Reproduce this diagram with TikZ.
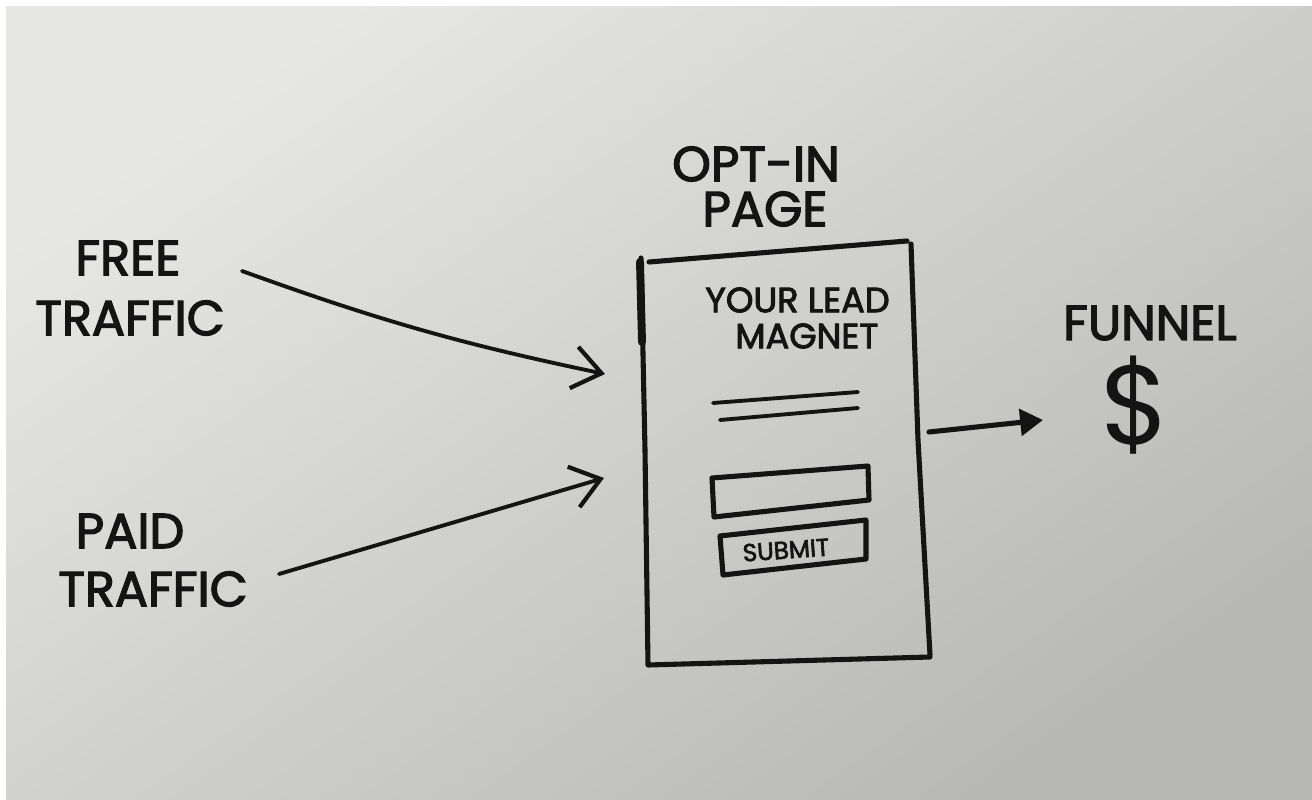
\documentclass[tikz,border=0pt]{standalone}
\usepackage{fontspec}
\setmainfont{Poppins}
\newfontfamily\handfont{Poppins}[FakeBold=2.6]
\usetikzlibrary{arrows.meta}
\definecolor{paperA}{HTML}{E7E7E5}
\definecolor{paperM}{HTML}{DADAD8}
\definecolor{paperB}{HTML}{B8B8B6}
\definecolor{ink}{HTML}{141414}
\tikzset{
  pen/.style={draw=ink, line width=2.9pt, line cap=round, line join=round},
  thinpen/.style={draw=ink, line width=2.2pt, line cap=round, line join=round},
  hand/.style={text=ink, font=\handfont\fontsize{28}{33}\selectfont, align=center, inner sep=0pt},
  handmid/.style={text=ink, font=\handfont\fontsize{20}{22}\selectfont, align=left, inner sep=0pt},
  handsmall/.style={text=ink, font=\handfont\fontsize{14}{16}\selectfont, inner sep=0pt},
  openhead/.style={-{Straight Barb[length=16pt,width=24pt,line width=2.4pt]}},
  solidhead/.style={-{Triangle[length=13pt,width=15pt]}}
}
\begin{document}
\begin{tikzpicture}[x=0.02cm,y=-0.02cm]
\useasboundingbox (0,0) rectangle (1312,800);
\fill[white] (0,0) rectangle (1312,800);
\shade[shading=axis, top color=paperA, middle color=paperM, bottom color=paperB, shading angle=35] (6,7) rectangle (1312,800);

% labels
\node[hand] (free) at (128,258) {FREE};
\node[hand] (freet) at (130,318) {TRAFFIC};
\node[hand] (paid) at (130,531) {PAID};
\node[hand] (paidt) at (153,589) {TRAFFIC};
\node[hand] (optin) at (756,164) {OPT-IN};
\node[hand] (pagelbl) at (765,209) {PAGE};
\node[hand] (funnel) at (1150,323) {FUNNEL};
\node[text=ink, font=\fontsize{64}{66}\selectfont, inner sep=0pt] (dollar) at (1135,405) {\$};

% page box
\draw[pen] (649,262) -- (907,241);
\draw[pen] (911,244) -- (918,440) -- (930,655);
\draw[pen] (641,258) -- (645,450) -- (648,665) -- (930,657);
\draw[ink, line width=4.5pt, line cap=round] (640,262) -- (642,342);

\node[handmid, anchor=west] (lead) at (705,300) {YOUR LEAD};
\node[handmid, anchor=west] (magnet) at (735,336) {MAGNET};

% text lines
\draw[thinpen] (713,403) -- (858,392);
\draw[thinpen] (720,420) -- (858,408);

% input field
\draw[pen] (712,478) -- (868,466) -- (869,500) -- (714,517) -- cycle;
% submit button
\draw[pen] (720,536) -- (866,520) -- (866,559) -- (723,575) -- cycle;
\node[handsmall, rotate=4] (submit) at (786,550) {SUBMIT};

% arrows
\coordinate (a1s) at (242,271);
\coordinate (a1e) at (605,374);
\coordinate (a2s) at (279,574);
\coordinate (a2e) at (604,478);
\coordinate (a3s) at (929,432);
\coordinate (a3e) at (1043,420);
\draw[thinpen, openhead] (a1s) to[bend right=4] (a1e);
\draw[thinpen, openhead] (a2s) -- (a2e);
\draw[pen, solidhead] (a3s) -- (a3e);
\end{tikzpicture}
\end{document}
